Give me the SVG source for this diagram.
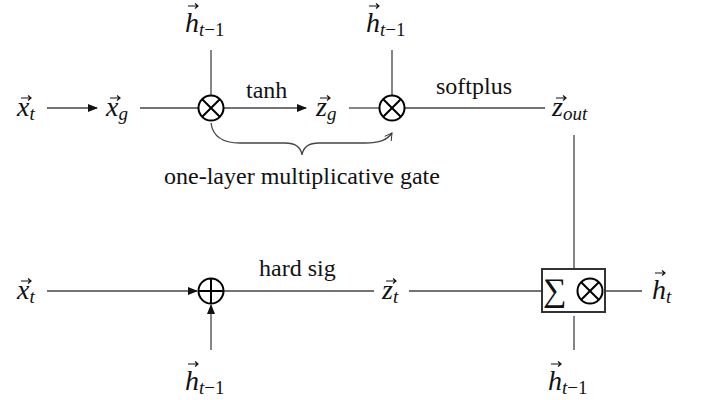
<svg xmlns="http://www.w3.org/2000/svg" width="705" height="400" viewBox="0 0 705 400">
<style>
.s{font-size:19px}
.u{font-style:normal}
.ln{stroke:#444;stroke-width:1.3;fill:none}
.op{stroke:#000;stroke-width:2;fill:#fff}
</style>
<defs>
<marker id="ah" markerWidth="10" markerHeight="8" refX="9" refY="4" orient="auto" markerUnits="userSpaceOnUse">
<path d="M0,0 L10,4 L0,8 Z" fill="#111"/>
</marker>
<marker id="oh" markerWidth="10" markerHeight="10" refX="8" refY="5" orient="auto" markerUnits="userSpaceOnUse">
<path d="M1,1 L8,5 L1,9" fill="none" stroke="#333" stroke-width="1"/>
</marker>
<path id="vec" d="M0,0 L10,0 M7,-2.5 L10,0 L7,2.5" stroke="#111" stroke-width="1.2" fill="none"/>
</defs>
<g id="connectors">
<line class="ln" x1="47" y1="108" x2="97" y2="108" marker-end="url(#ah)"/>
<line class="ln" x1="140" y1="108" x2="198" y2="108"/>
<line class="ln" x1="211" y1="50" x2="211" y2="95"/>
<line class="ln" x1="224" y1="108" x2="306" y2="108" marker-end="url(#ah)"/>
<line class="ln" x1="349" y1="108" x2="379" y2="108"/>
<line class="ln" x1="392" y1="50" x2="392" y2="95"/>
<line class="ln" x1="405" y1="108" x2="545" y2="108"/>
<line class="ln" x1="574" y1="135" x2="574" y2="269"/>
<path class="ln" d="M211,123 C213,138 225,143 240,143 L285,143 C297,143 301,148 302,155 C303,148 307,143 319,143 L365,143 C380,143 387,140 392,133" marker-end="url(#oh)"/>
<line class="ln" x1="47" y1="291" x2="197" y2="291" marker-end="url(#ah)"/>
<line class="ln" x1="211" y1="350" x2="211" y2="305" marker-end="url(#ah)"/>
<line class="ln" x1="224" y1="291" x2="374" y2="291"/>
<line class="ln" x1="409" y1="291" x2="542" y2="291"/>
<line class="ln" x1="574" y1="316" x2="574" y2="350"/>
<line class="ln" x1="605" y1="291" x2="642" y2="291"/>
</g>
<g font-family="Liberation Serif, Times New Roman, serif" font-style="italic" font-size="28" fill="#111">
<g id="xt-top"><text x="17" y="116">x<tspan class="s" dy="4">t</tspan></text><use href="#vec" x="21" y="98"/></g>
<g id="xg"><text x="106" y="116">x<tspan class="s" dy="4">g</tspan></text><use href="#vec" x="110" y="98"/></g>
<g id="h-top1"><text x="185" y="32">h<tspan class="s" dy="4">t<tspan class="u">−1</tspan></tspan></text><use href="#vec" x="188" y="6"/></g>
<g id="zg"><text x="316" y="116">z<tspan class="s" dy="4">g</tspan></text><use href="#vec" x="320" y="98"/></g>
<g id="h-top2"><text x="366" y="32">h<tspan class="s" dy="4">t<tspan class="u">−1</tspan></tspan></text><use href="#vec" x="369" y="6"/></g>
<g id="zout"><text x="552" y="116">z<tspan class="s" dy="4">out</tspan></text><use href="#vec" x="556" y="98"/></g>
<g id="xt-bottom"><text x="17" y="299">x<tspan class="s" dy="4">t</tspan></text><use href="#vec" x="21" y="281"/></g>
<g id="h-bottom1"><text x="185" y="390">h<tspan class="s" dy="4">t<tspan class="u">−1</tspan></tspan></text><use href="#vec" x="188" y="364"/></g>
<g id="zt"><text x="382" y="299">z<tspan class="s" dy="4">t</tspan></text><use href="#vec" x="386" y="281"/></g>
<g id="ht"><text x="652" y="299">h<tspan class="s" dy="4">t</tspan></text><use href="#vec" x="655" y="273"/></g>
<g id="h-bottom2"><text x="548" y="390">h<tspan class="s" dy="4">t<tspan class="u">−1</tspan></tspan></text><use href="#vec" x="551" y="364"/></g>
</g>
<g id="mul1">
<circle class="op" cx="211" cy="108" r="12.5"/>
<path d="M202.2,99.2 L219.8,116.8 M219.8,99.2 L202.2,116.8" stroke="#000" stroke-width="2"/>
</g>
<g id="mul2">
<circle class="op" cx="392" cy="108" r="12.5"/>
<path d="M383.2,99.2 L400.8,116.8 M400.8,99.2 L383.2,116.8" stroke="#000" stroke-width="2"/>
</g>
<g id="add">
<circle class="op" cx="211" cy="291" r="12.5"/>
<path d="M198.5,291 L223.5,291 M211,278.5 L211,303.5" stroke="#000" stroke-width="2"/>
</g>
<g font-family="Liberation Serif, Times New Roman, serif" font-size="24" fill="#111">
<g id="tanh-label"><text x="246" y="98">tanh</text></g>
<g id="softplus-label"><text x="436" y="94">softplus</text></g>
<g id="gate-label"><text x="302" y="184" text-anchor="middle">one-layer multiplicative gate</text></g>
<g id="hardsig-label"><text x="259" y="276">hard sig</text></g>
<g id="sum-mul">
<rect x="542" y="269" width="63" height="43" fill="#fff" stroke="#333" stroke-width="2"/>
<text x="543" y="301" font-size="33">∑</text>
<circle cx="590" cy="291" r="12.5" fill="none" stroke="#000" stroke-width="2"/>
<path d="M581.2,282.2 L598.8,299.8 M598.8,282.2 L581.2,299.8" stroke="#000" stroke-width="2"/>
</g>
</g>
</svg>
